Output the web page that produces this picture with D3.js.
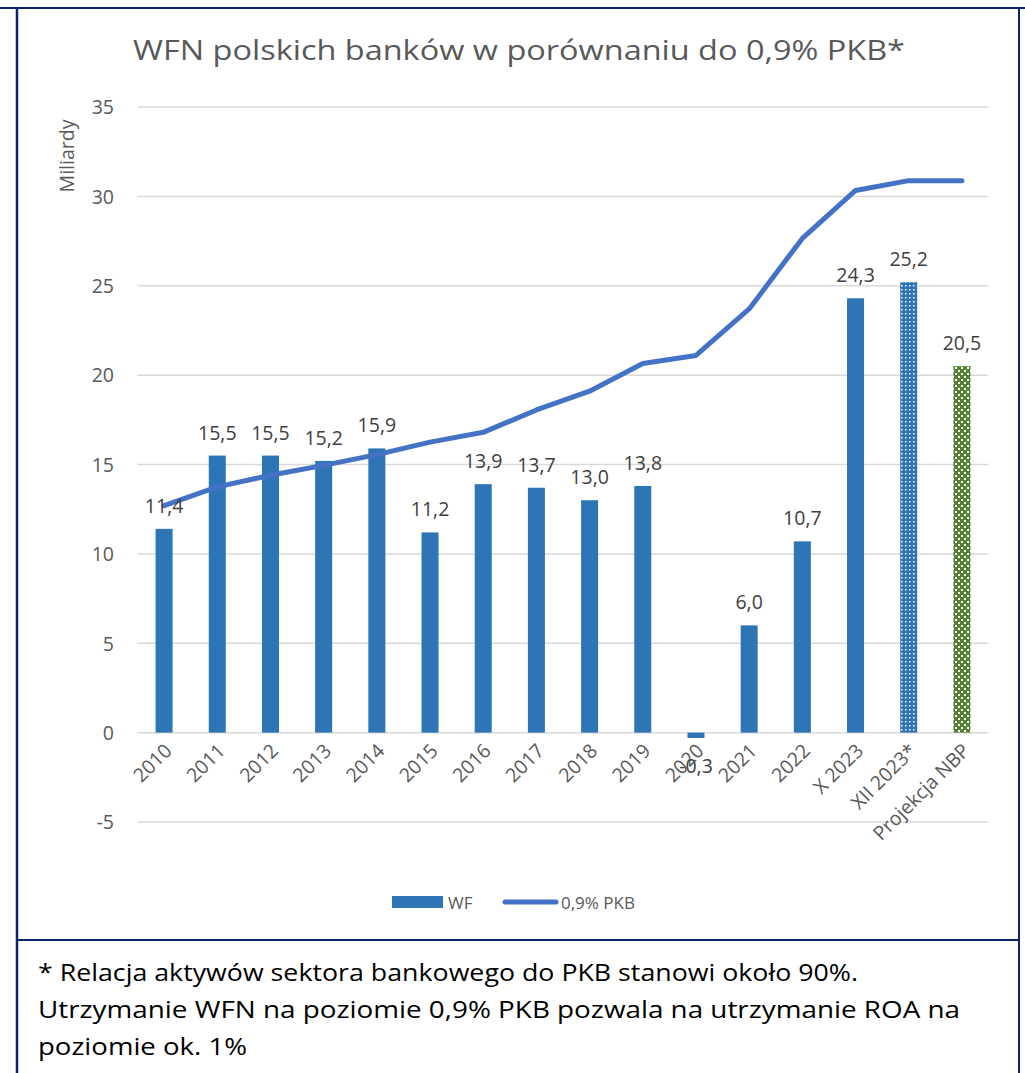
<!DOCTYPE html>
<html><head><meta charset="utf-8">
<script src="https://cdn.jsdelivr.net/npm/d3@7"></script>
<style>
html,body{margin:0;padding:0;background:#fff;}
svg{display:block;}
text{font-family:"Open Sans","Noto Sans",sans-serif;}
</style></head>
<body>
<svg id="c" width="1025" height="1073"></svg>
<script>
const categories = ["2010","2011","2012","2013","2014","2015","2016","2017","2018","2019","2020","2021","2022","X 2023","XII 2023*","Projekcja NBP"];
const wfValues = [11.4,15.5,15.5,15.2,15.9,11.2,13.9,13.7,13.0,13.8,-0.3,6.0,10.7,24.3,25.2,20.5];
const pkbValues = [12.7,13.75,14.4,14.95,15.55,16.25,16.8,18.05,19.1,20.65,21.1,23.7,27.65,30.33,30.88,30.88];
const yTicks = [-5,0,5,10,15,20,25,30,35];
const titleText = "WFN polskich banków w porównaniu do 0,9% PKB*";
const footnoteLines = ["* Relacja aktywów sektora bankowego do PKB stanowi około 90%.",
  "Utrzymanie WFN na poziomie 0,9% PKB pozwala na utrzymanie ROA na",
  "poziomie ok. 1%"];

const svg = d3.select("#c");
const navy = "#0c2470";
const barBlue = "#2e75b6";
const lineBlue = "#4472c4";
const green = "#548235";
const textGray = "#595959";
const labelGray = "#404040";

// patterns
const defs = svg.append("defs");
const p1 = defs.append("pattern").attr("id","dotsBlue").attr("patternUnits","userSpaceOnUse")
  .attr("width",4).attr("height",4);
p1.append("rect").attr("width",4).attr("height",4).attr("fill",barBlue);
p1.append("rect").attr("x",1).attr("y",1).attr("width",1.5).attr("height",1.5).attr("fill","#fff");
const p2 = defs.append("pattern").attr("id","dotsGreen").attr("patternUnits","userSpaceOnUse")
  .attr("width",6).attr("height",6);
p2.append("rect").attr("width",6).attr("height",6).attr("fill",green);
p2.append("rect").attr("x",1).attr("y",1).attr("width",2).attr("height",2).attr("fill","#fff");
p2.append("rect").attr("x",4).attr("y",4).attr("width",2).attr("height",2).attr("fill","#fff");

// frame
svg.append("line").attr("x1",0).attr("x2",1025).attr("y1",8).attr("y2",8).attr("stroke",navy).attr("stroke-width",2);
svg.append("line").attr("x1",17).attr("x2",17).attr("y1",7).attr("y2",1073).attr("stroke",navy).attr("stroke-width",2.5);
svg.append("line").attr("x1",1019).attr("x2",1019).attr("y1",7).attr("y2",1073).attr("stroke",navy).attr("stroke-width",2);
svg.append("line").attr("x1",17).attr("x2",1019).attr("y1",940).attr("y2",940).attr("stroke",navy).attr("stroke-width",2);

// scales
const x = d3.scaleBand().domain(categories).range([137.5, 988.5]).paddingInner(0.68).paddingOuter(0.34);
const y = d3.scaleLinear().domain([-5,35]).range([822,107]);
const cx = d => x(d) + x.bandwidth()/2;

// title
svg.append("text").attr("x",519).attr("y",60).attr("text-anchor","middle")
  .attr("font-size",28).attr("fill",textGray)
  .attr("textLength",772).attr("lengthAdjust","spacingAndGlyphs").text(titleText);

// grid
svg.append("g").selectAll("line").data(yTicks).join("line")
  .attr("x1",137.5).attr("x2",988.5).attr("y1",d=>y(d)).attr("y2",d=>y(d))
  .attr("stroke","#d9d9d9").attr("stroke-width",1.5);

// y axis
const yAxis = d3.axisLeft(y).tickValues(yTicks).tickSize(0).tickPadding(0).tickFormat(d => String(d));
const gy = svg.append("g").attr("transform","translate(114,0)").call(yAxis);
gy.select(".domain").remove();
gy.selectAll("text").attr("font-size",19.5).attr("fill",textGray).attr("font-family","Open Sans, sans-serif").attr("dy","0.35em");

// y title
svg.append("text").attr("transform","translate(74,156) rotate(-90)").attr("text-anchor","middle")
  .attr("font-size",19.5).attr("fill",textGray).text("Miliardy");

// bars
const fills = categories.map((c,i)=> i===14 ? "url(#dotsBlue)" : (i===15 ? "url(#dotsGreen)" : barBlue));
svg.append("g").selectAll("rect").data(wfValues).join("rect")
  .attr("x",(d,i)=>x(categories[i])).attr("width",x.bandwidth())
  .attr("y",d=>y(Math.max(0,d))).attr("height",d=>Math.abs(y(d)-y(0)))
  .attr("fill",(d,i)=>fills[i]);

// line
const line = d3.line().x((d,i)=>cx(categories[i])).y(d=>y(d));
svg.append("path").datum(pkbValues).attr("d",line).attr("fill","none")
  .attr("stroke",lineBlue).attr("stroke-width",5).attr("stroke-linejoin","round").attr("stroke-linecap","round");

// data labels
const fmt = v => (v<0?"-":"") + d3.format(".1f")(Math.abs(v)).replace(".",",");
svg.append("g").selectAll("text").data(wfValues).join("text")
  .attr("x",(d,i)=>cx(categories[i]))
  .attr("y",d=> d>=0 ? y(d)-16 : y(d)+35)
  .attr("text-anchor","middle").attr("font-size",19.5).attr("fill",labelGray)
  .text(d=>fmt(d));

// x labels
const gx = svg.append("g");
gx.selectAll("text").data(categories).join("text")
  .attr("transform",d=>`translate(${cx(d)+9},${752}) rotate(-45)`)
  .attr("text-anchor","end").attr("font-size",19.5).attr("fill",textGray)
  .text(d=>d);

// legend
svg.append("rect").attr("x",392).attr("y",896).attr("width",51).attr("height",12).attr("fill",barBlue);
svg.append("text").attr("x",448).attr("y",909).attr("font-size",17).attr("fill",textGray).text("WF");
svg.append("line").attr("x1",505).attr("x2",556).attr("y1",902).attr("y2",902)
  .attr("stroke",lineBlue).attr("stroke-width",5).attr("stroke-linecap","round");
svg.append("text").attr("x",561).attr("y",909).attr("font-size",17).attr("fill",textGray).text("0,9% PKB");

// footnote
const fnWidths = [820, 922, 209];
svg.append("g").selectAll("text").data(footnoteLines).join("text")
  .attr("x",38).attr("y",(d,i)=>981+i*37)
  .attr("font-size",23).attr("fill","#000")
  .attr("textLength",(d,i)=>fnWidths[i]).attr("lengthAdjust","spacingAndGlyphs")
  .text(d=>d);
</script>
</body></html>
